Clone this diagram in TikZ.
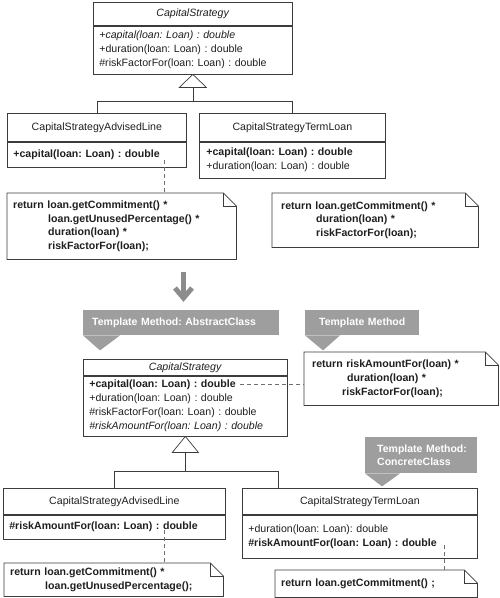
\documentclass[tikz,border=0pt]{standalone}
\usepackage{fontspec}
\setmainfont{Liberation Sans}
\frenchspacing
\definecolor{callgray}{RGB}{158,158,158}
\definecolor{linegray}{RGB}{60,60,60}
\definecolor{arrowgray}{RGB}{140,140,140}
\definecolor{dashgray}{RGB}{110,110,110}
\tikzset{
  base/.style={font=\fontsize{10.6}{14}\selectfont, text=black!88},
  clstitle/.style n args={2}{base, draw=linegray, line width=0.7pt, inner sep=0pt,
     minimum width=#1, minimum height=#2, anchor=north west},
  clsbody/.style n args={2}{base, draw=linegray, line width=0.7pt, inner xsep=6pt, inner ysep=0pt,
     text width=#1, minimum height=#2, align=left, anchor=north west},
  notebox/.style n args={3}{base, font=\fontsize{10.6}{13.8}\selectfont\bfseries, inner xsep=#3, inner ysep=0pt,
     text width=#1, minimum height=#2, align=left, anchor=north west},
  noteline/.style={draw=linegray, line width=0.7pt},
  callout/.style n args={4}{font=\fontsize{10.5}{13}\selectfont\bfseries, text=white, fill=callgray,
     inner xsep=#3, inner ysep=0pt, text width=#1, minimum height=#2, align=#4, anchor=north west},
  genline/.style={draw=linegray, line width=0.7pt},
  dashline/.style={draw=dashgray, line width=0.7pt, dash pattern=on 4pt off 3pt},
  bigarrow/.style={draw=arrowgray, line width=5pt},
}
\newcommand{\notefold}[1]{%
  \draw[noteline] (#1.north west) -- ([xshift=-13pt]#1.north east) -- ([yshift=-13pt]#1.north east)
     -- (#1.south east) -- (#1.south west) -- cycle;
  \draw[noteline] ([xshift=-13pt]#1.north east) |- ([yshift=-13pt]#1.north east);}
\begin{document}
\begin{tikzpicture}[x=1pt,y=-1pt]
\useasboundingbox (0,0) rectangle (500,598);

% ---------- top part ----------
\node[clstitle={199pt}{23pt}] (cs1t) at (93,2) {\textit{CapitalStrategy}};
\node[clsbody={187pt}{48pt}] (cs1b) at (cs1t.south west)
  {\textit{+capital(loan: Loan) : double}\\+duration(loan: Loan) : double\\\#riskFactorFor(loan: Loan) : double};

\node[clstitle={179pt}{28pt}] (al1t) at (7,113) {CapitalStrategyAdvisedLine};
\node[clsbody={167pt}{25pt}] (al1b) at (al1t.south west) {\textbf{+capital(loan: Loan) : double}};

\node[clstitle={186pt}{28pt}] (tl1t) at (199,113) {CapitalStrategyTermLoan};
\node[clsbody={172pt}{36pt}, inner xsep=7pt] (tl1b) at (tl1t.south west)
  {\textbf{+capital(loan: Loan) : double}\\+duration(loan: Loan) : double};

% generalization (top)
\draw[genline, fill=white] (cs1b.south) -- ++(-13.5,13) -- ++(27,0) -- cycle;
\coordinate (tri1b) at ([yshift=-13pt]cs1b.south);
\draw[genline] (tri1b) -- ++(0,14) coordinate (j1);
\draw[genline] (al1t.north) |- (j1) -| (tl1t.north);

% notes (top)
\node[notebox={217pt}{66pt}{6pt}] (n1) at (7,193)
  {return loan.getCommitment() *\\\hspace*{35pt}loan.getUnusedPercentage() *\\\hspace*{35pt}duration(loan) *\\\hspace*{35pt}riskFactorFor(loan);};
\notefold{n1}
\coordinate (d1) at (164,160);
\draw[dashline] (d1) -- (d1 |- n1.north);

\node[notebox={188pt}{54pt}{9pt}] (n2) at (272,193)
  {return loan.getCommitment() *\\\hspace*{35pt}duration(loan) *\\\hspace*{35pt}riskFactorFor(loan);};
\notefold{n2}

% big arrow
\coordinate (a1) at (183.5,272);
\coordinate (a2) at (183.5,298);
\draw[bigarrow] (a1) -- (a2);
\draw[bigarrow, line join=miter] ([xshift=-8.5pt,yshift=10pt]a2) -- (a2) -- ([xshift=8.5pt,yshift=10pt]a2);

% ---------- bottom part ----------
\node[callout={178pt}{25pt}{9pt}{left}] (c1) at (83,310) {Template Method: AbstractClass};
\fill[callgray] (c1.south west) -- ++(37,0) -- ++(-20,15) -- cycle;

\node[callout={98pt}{25pt}{8pt}{center}] (c2) at (305,310) {Template Method};
\fill[callgray] (c2.south west) -- ++(35,0) -- ++(-17,15) -- cycle;

\node[clstitle={204pt}{16pt}] (cs2t) at (83,359) {\textit{CapitalStrategy}};
\node[clsbody={192pt}{60pt}] (cs2b) at (cs2t.south west)
  {\textbf{+capital(loan: Loan) : double}\\+duration(loan: Loan) : double\\\#riskFactorFor(loan: Loan) : double\\\textit{\#riskAmountFor(loan: Loan) : double}};

\node[notebox={178pt}{53pt}{8pt}] (n3) at (304,352)
  {return riskAmountFor(loan) *\\\hspace*{35pt}duration(loan) *\\\hspace*{30pt}riskFactorFor(loan);};
\notefold{n3}
\coordinate (d2) at (240,384);
\draw[dashline] (d2) -- (d2 -| n3.west);

\node[callout={94pt}{36pt}{9pt}{left}] (c3) at (365,437) {\hspace*{3pt}Template Method:\\\hspace*{3pt}ConcreteClass};
\fill[callgray] (c3.south west) -- ++(35,0) -- ++(-18,13) -- cycle;

\node[clstitle={222pt}{26pt}] (al2t) at (3,488) {CapitalStrategyAdvisedLine};
\node[clsbody={210pt}{24pt}] (al2b) at (al2t.south west) {\textbf{\#riskAmountFor(loan: Loan) : double}};

\node[clstitle={235pt}{26pt}] (tl2t) at (242,488) {CapitalStrategyTermLoan};
\node[clsbody={223pt}{43pt}] (tl2b) at (tl2t.south west)
  {+duration(loan: Loan): double\\\textbf{\#riskAmountFor(loan: Loan) : double}};

% generalization (bottom)
\draw[genline, fill=white] (cs2b.south) -- ++(-13,16) -- ++(26,0) -- cycle;
\coordinate (tri2b) at ([yshift=-16pt]cs2b.south);
\draw[genline] (tri2b) -- ++(0,19) coordinate (j2);
\coordinate (r2) at ([xshift=36pt]tl2t.north west);
\draw[genline] (al2t.north) |- (j2) -| (r2);

% notes (bottom)
\node[notebox={207pt}{33pt}{6pt}] (n4) at (4,563)
  {return loan.getCommitment() *\\\hspace*{35pt}loan.getUnusedPercentage();};
\notefold{n4}
\coordinate (d3) at (164,530);
\draw[dashline] (d3) -- (d3 |- n4.north);

\node[notebox={190pt}{27pt}{6pt}] (n5) at (275,570) {return loan.getCommitment() ;};
\notefold{n5}
\coordinate (d4) at (444,545);
\draw[dashline] (d4) -- (d4 |- n5.north);
\end{tikzpicture}
\end{document}
